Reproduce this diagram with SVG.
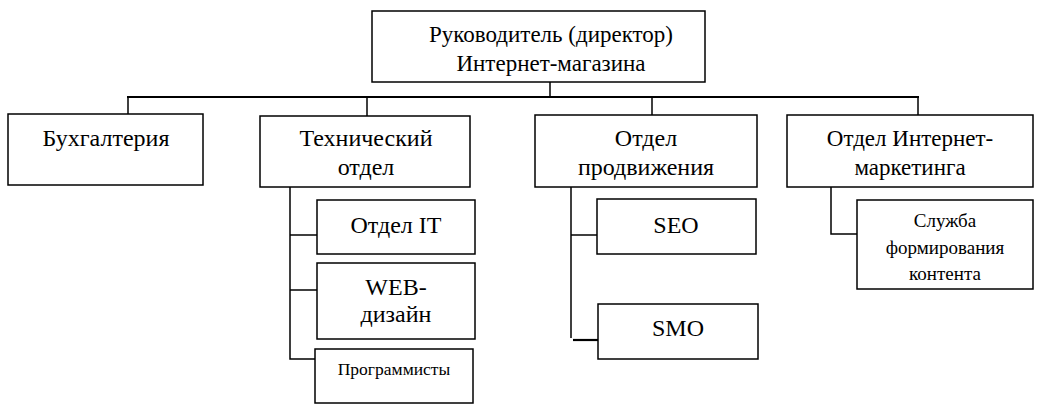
<svg xmlns="http://www.w3.org/2000/svg" width="1042" height="412" viewBox="0 0 1042 412">
<style>
.box{fill:#fff;stroke:#000;stroke-width:1.5}
.c{fill:none;stroke:#000;stroke-width:1.5}
.bus{fill:none;stroke:#000;stroke-width:2.2}
</style>
<rect width="1042" height="412" fill="#fff"/>
<g id="connectors">
<line class="c" x1="550" y1="82" x2="550" y2="97"/>
<line class="bus" x1="127" y1="97" x2="919" y2="97"/>
<line class="c" x1="128" y1="97" x2="128" y2="114"/>
<line class="c" x1="367" y1="97" x2="367" y2="116"/>
<line class="c" x1="652" y1="97" x2="652" y2="115"/>
<line class="c" x1="918" y1="97" x2="918" y2="115"/>
<polyline class="c" points="290,187 290,359 315,359"/>
<line class="c" x1="290" y1="235" x2="317" y2="235"/>
<line class="c" x1="290" y1="290" x2="317" y2="290"/>
<line class="c" x1="571" y1="187" x2="571" y2="338"/>
<line class="c" x1="571" y1="235" x2="597" y2="235"/>
<line class="bus" x1="573" y1="340" x2="598" y2="340"/>
<polyline class="c" points="831,187 831,234 857,234"/>
</g>
<g font-family="Liberation Serif" font-size="24" text-anchor="middle" fill="#000">
<g id="director">
<rect class="box" x="372" y="11" width="333" height="71"/>
<text x="551" y="42" font-size="23">Руководитель (директор)</text>
<text x="551" y="71" font-size="23">Интернет-магазина</text>
</g>
<g id="accounting">
<rect class="box" x="8" y="114" width="195" height="71"/>
<text x="106" y="146">Бухгалтерия</text>
</g>
<g id="tech">
<rect class="box" x="260" y="116" width="210" height="71"/>
<text x="366" y="146">Технический</text>
<text x="366" y="175">отдел</text>
</g>
<g id="promo">
<rect class="box" x="535" y="115" width="222" height="72"/>
<text x="646" y="146">Отдел</text>
<text x="646" y="175">продвижения</text>
</g>
<g id="marketing">
<rect class="box" x="787" y="115" width="246" height="72"/>
<text x="910" y="146" font-size="23">Отдел Интернет-</text>
<text x="910" y="175" font-size="23">маркетинга</text>
</g>
<g id="it">
<rect class="box" x="317" y="200" width="158" height="54"/>
<text x="396" y="233">Отдел IT</text>
</g>
<g id="web">
<rect class="box" x="317" y="263" width="158" height="76"/>
<text x="396" y="295">WEB-</text>
<text x="396" y="322">дизайн</text>
</g>
<g id="programmers">
<rect class="box" x="315" y="349" width="158" height="54"/>
<text x="394" y="375" font-size="17.5">Программисты</text>
</g>
<g id="seo">
<rect class="box" x="597" y="199" width="159" height="55"/>
<text x="676" y="233">SEO</text>
</g>
<g id="smo">
<rect class="box" x="598" y="304" width="160" height="55"/>
<text x="678" y="336">SMO</text>
</g>
<g id="content">
<rect class="box" x="857" y="200" width="176" height="89"/>
<text x="945" y="227" font-size="19">Служба</text>
<text x="945" y="254" font-size="19">формирования</text>
<text x="945" y="280" font-size="19">контента</text>
</g>
</g>
</svg>
